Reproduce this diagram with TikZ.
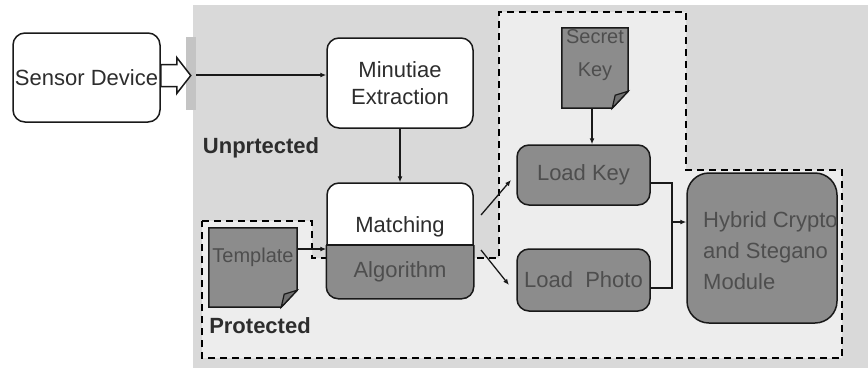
\documentclass[tikz,border=0pt]{standalone}
\usepackage{fontspec}
\setmainfont{Liberation Sans}
\usetikzlibrary{calc,arrows.meta}
\definecolor{bggrey}{RGB}{217,217,217}
\definecolor{protfill}{RGB}{237,237,237}
\definecolor{stripgrey}{RGB}{196,196,196}
\definecolor{boxgrey}{RGB}{140,140,140}
\definecolor{foldgrey}{RGB}{112,112,112}
\definecolor{greytext}{RGB}{78,78,78}
\definecolor{darktext}{RGB}{45,45,45}
\definecolor{edge}{RGB}{25,25,25}
\begin{document}
\begin{tikzpicture}[x=1pt,y=-1pt,
  box/.style={draw=edge, line width=1.5pt, rounded corners=12pt, inner sep=0pt},
  whitebox/.style={box, fill=white, text=darktext},
  greybox/.style={box, fill=boxgrey, text=greytext},
  docshape/.style={draw=edge, line width=1.5pt, fill=boxgrey},
  docfold/.style={draw=edge, line width=1.2pt, fill=foldgrey},
  arr/.style={draw=edge, line width=1.3pt, -{Latex[length=6pt,width=5pt]}},
  wire/.style={draw=edge, line width=1.3pt},
  hollow/.style={draw=edge, line width=1.5pt, fill=white},
  zone/.style={draw=black, line width=1.6pt, dash pattern=on 7pt off 5pt, fill=protfill},
  lbl/.style={font=\fontsize{22}{27}\selectfont\bfseries, text=darktext, inner sep=0pt},
  txt/.style={font=\fontsize{22}{27}\selectfont},
  small/.style={font=\fontsize{20}{33}\selectfont, text=greytext, align=center, inner sep=0pt},
]
\useasboundingbox (0,0) rectangle (868,368);
\fill[white] (0,0) rectangle (868,368);
\fill[bggrey] (193,5) rectangle (868,368);
% protected zone
\path[zone] (202,221) -- (312,221) -- (312,258) -- (400,258) -- (499,258) -- (499,12)
  -- (686,12) -- (686,170) -- (842,170) -- (842,358) -- (202,358) -- cycle;
\fill[stripgrey] (186,37) rectangle (196,110);

% sensor
\node[whitebox, txt, minimum width=147pt, minimum height=89pt] (sensor) at (86.5,77.5) {Sensor Device};
\coordinate (hs) at ([yshift=2pt]sensor.east);
\path[hollow] ($(hs)+(0,-11)$) -- ++(16,0) -- ++(0,-7) -- ++(14,18) -- ++(-14,18) -- ++(0,-7) -- ++(-16,0) -- cycle;

% minutiae
\node[whitebox, txt, align=center, minimum width=146pt, minimum height=90pt] (mini) at (400,83) {Minutiae\\Extraction};

% matching / algorithm
\node[box, fill=white, minimum width=146pt, minimum height=115pt] (match) at (400,240.5) {};
\begin{scope}
  \clip (318,245) rectangle (482,306);
  \path[greybox] (match.north west) rectangle (match.south east);
\end{scope}
\draw[edge, line width=1.5pt] (match.west |- 0,245) -- (match.east |- 0,245);
\node[txt, text=darktext, inner sep=0pt] (matchtxt) at (400,227) {Matching};
\node[txt, text=greytext, inner sep=0pt] (algtxt) at (400,272) {Algorithm};

% template document
\node[minimum width=88pt, minimum height=79pt, inner sep=0pt] (tmpl) at (253,267.5) {};
\path[docshape] (tmpl.north west) -- (tmpl.north east) -- ($(tmpl.south east)+(0,-17)$)
  -- ($(tmpl.south east)+(-16,0)$) -- (tmpl.south west) -- cycle;
\path[docfold] ($(tmpl.south east)+(0,-17)$) -- ($(tmpl.south east)+(-13,-13)$) -- ($(tmpl.south east)+(-16,0)$) -- cycle;
\node[small] (tmpltxt) at (253,257) {Template};

% secret key document
\node[minimum width=66pt, minimum height=80pt, inner sep=0pt] (secret) at (595,68) {};
\path[docshape] (secret.north west) -- (secret.north east) -- ($(secret.south east)+(0,-17)$)
  -- ($(secret.south east)+(-16,0)$) -- (secret.south west) -- cycle;
\path[docfold] ($(secret.south east)+(0,-17)$) -- ($(secret.south east)+(-13,-13)$) -- ($(secret.south east)+(-16,0)$) -- cycle;
\node[small] (secrettxt) at (595,55) {Secret\\Key};

% load boxes
\node[greybox, txt, minimum width=133pt, minimum height=60pt] (loadkey) at (583.5,175) {Load Key};
\node[greybox, txt, minimum width=133pt, minimum height=62pt] (loadphoto) at (583.5,280) {Load~ Photo};

% hybrid module
\node[greybox, rounded corners=22pt, minimum width=150pt, minimum height=150pt] (hybrid) at (762,248) {};
\node[txt, text=greytext, align=left, anchor=west, inner sep=0pt, font=\fontsize{22}{31}\selectfont] (hybtxt) at (703,251) {Hybrid Crypto\\and Stegano\\Module};

% labels
\node[lbl] (unprot) at (261,148) {Unprtected};
\node[lbl] (prot) at (260,326) {Protected};

% connectors
\coordinate (sfeed) at (196,75);
\draw[arr] (sfeed) -- (sfeed -| mini.west);
\draw[arr] (mini.south) -- (match.north);
\draw[arr] ([yshift=18.5pt]tmpl.east) -- ([yshift=-8.5pt]match.west);
\coordinate (d1s) at (481,215);
\coordinate (d1e) at (511,180);
\coordinate (d2s) at (481,250);
\coordinate (d2e) at (509,285);
\draw[arr] (d1s) -- (d1e);
\draw[arr] (d2s) -- (d2e);
\draw[arr] ([xshift=-3pt]secret.south) -- ([xshift=8.5pt]loadkey.north);
\coordinate (j) at (672,222);
\draw[wire] ([yshift=-8pt]loadkey.east) -| (j) |- ([yshift=-8pt]loadphoto.east);
\draw[arr] (j) -- (j -| hybrid.west);
\end{tikzpicture}
\end{document}
